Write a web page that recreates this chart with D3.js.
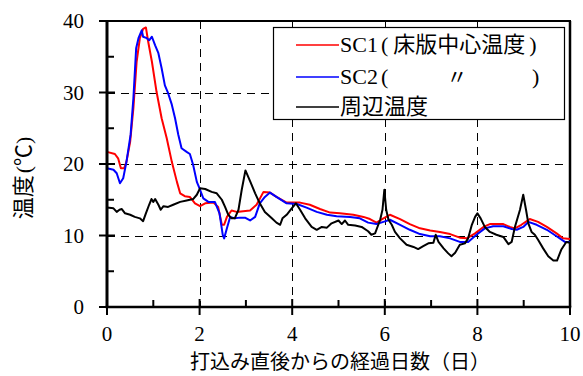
<!DOCTYPE html>
<html>
<head>
<meta charset="utf-8">
<script src="https://cdn.jsdelivr.net/npm/d3@7"></script>
<style>
  html, body { margin: 0; padding: 0; background: #fff; }
  svg { display: block; }
</style>
</head>
<body>
<svg id="chart" width="583" height="376"></svg>
<script>
// Elapsed days after placing, and temperatures (°C)
const sc1Days = [0.00,0.17,0.24,0.30,0.37,0.42,0.50,0.57,0.64,0.71,0.78,0.84,0.89,0.97,1.07,1.18,1.29,1.40,1.51,1.58,1.68,1.79,1.90,2.01,2.12,2.30,2.40,2.48,2.53,2.59,2.69,2.80,2.94,3.09,3.23,3.38,3.52,3.66,3.88,4.17,4.38,4.60,4.82,5.03,5.32,5.54,5.68,5.82,5.97,6.11,6.33,6.54,6.76,6.98,7.19,7.41,7.62,7.77,7.95,8.13,8.27,8.56,8.70,8.81,8.95,9.13,9.31,9.50,9.71,9.85,10.0];
const sc1Temp = [21.7,21.4,20.8,19.4,19.4,20.3,23.1,27.8,34.3,37.6,38.9,39.1,37.1,34.3,30.1,26.4,23.6,20.3,17.5,15.9,15.5,15.4,14.5,14.1,14.5,14.6,14.0,11.5,11.5,12.6,13.5,13.3,13.4,13.5,14.3,16.1,16.0,15.4,14.6,14.6,14.3,13.7,13.2,13.1,12.9,12.6,12.3,11.8,12.4,12.9,12.3,11.6,11.0,10.7,10.5,10.2,9.7,9.6,10.3,11.2,11.6,11.6,11.2,11.0,11.5,12.3,11.9,11.2,10.3,9.6,9.5];

const sc2Days = [0.00,0.14,0.21,0.28,0.35,0.42,0.51,0.57,0.63,0.68,0.75,0.78,0.86,0.91,0.97,1.04,1.11,1.18,1.25,1.32,1.40,1.47,1.54,1.61,1.72,1.79,1.86,1.94,2.01,2.08,2.19,2.33,2.43,2.50,2.53,2.59,2.66,2.76,2.87,2.98,3.09,3.20,3.30,3.41,3.52,3.66,3.88,4.10,4.31,4.53,4.75,4.96,5.25,5.46,5.64,5.82,5.97,6.11,6.33,6.54,6.76,6.98,7.19,7.41,7.62,7.80,7.98,8.16,8.34,8.56,8.74,8.85,8.99,9.10,9.28,9.50,9.71,9.89,10.0];
const sc2Temp = [19.4,19.2,18.7,17.3,18.0,20.3,24.1,29.2,36.2,37.6,38.7,37.8,37.6,37.3,37.8,36.6,35.5,33.4,31.0,29.9,28.3,26.4,24.1,22.2,21.7,21.4,19.9,17.5,16.4,15.2,14.7,14.7,13.1,10.1,9.6,11.0,12.6,12.4,12.5,12.5,12.1,12.6,14.5,15.4,16.0,15.4,14.5,14.4,13.9,13.3,12.9,12.7,12.6,12.4,11.8,11.6,11.9,12.2,11.5,10.8,10.2,9.9,9.9,9.6,9.1,9.1,10.1,11.0,11.3,11.3,10.9,10.8,11.2,11.9,11.5,10.8,9.9,9.1,9.1];

const airDays = [0.00,0.14,0.21,0.27,0.32,0.39,0.50,0.60,0.71,0.78,0.84,0.91,0.96,1.00,1.04,1.11,1.16,1.22,1.32,1.43,1.58,1.72,1.86,1.94,2.01,2.12,2.26,2.37,2.48,2.55,2.62,2.69,2.76,2.84,2.91,2.99,3.09,3.20,3.30,3.41,3.56,3.66,3.74,3.79,3.88,3.99,4.08,4.17,4.28,4.42,4.53,4.64,4.75,4.85,5.00,5.07,5.14,5.21,5.36,5.50,5.64,5.71,5.79,5.90,5.95,5.99,6.03,6.08,6.15,6.22,6.33,6.47,6.62,6.72,6.83,6.94,7.05,7.10,7.16,7.27,7.37,7.44,7.52,7.62,7.73,7.80,7.88,7.95,8.00,8.07,8.16,8.27,8.41,8.56,8.67,8.74,8.81,8.92,8.99,9.05,9.10,9.17,9.24,9.31,9.42,9.53,9.64,9.72,9.81,9.92,10.0];
const airTemp = [13.9,13.8,13.3,13.6,13.7,13.1,12.9,12.6,12.4,12.0,13.1,14.3,15.1,14.7,15.1,14.3,13.6,14.1,14.0,14.3,14.7,14.9,15.1,15.7,16.6,16.5,16.1,15.9,15.0,14.0,12.9,12.4,12.4,13.6,16.4,19.1,17.6,15.9,14.5,13.3,12.4,11.8,11.5,12.4,12.9,13.8,14.5,13.6,12.4,11.2,10.8,11.2,11.1,11.7,12.1,11.6,12.1,11.5,11.4,11.2,10.6,10.1,10.3,12.2,13.6,16.4,13.6,12.2,11.5,10.5,9.6,8.7,8.4,8.1,8.5,8.9,9.0,10.1,9.1,8.2,7.5,7.1,7.6,8.7,8.9,9.6,11.5,12.6,13.1,12.4,11.2,10.5,10.1,9.8,8.8,9.1,11.2,13.6,15.7,13.6,11.7,10.5,10.1,9.4,8.2,7.1,6.5,6.5,8.0,9.1,9.0];

// Axis ticks
const xMajorTicks = [0, 2, 4, 6, 8, 10];
const xMinorTicks = [1, 3, 5, 7, 9];
const yMajorTicks = [0, 10, 20, 30, 40];
const yMinorTicks = [5, 15, 25, 35];
const xGridTicks = [2, 4, 6, 8];
const yGridTicks = [10, 20, 30];

const seriesNames = ["SC1", "SC2", "周辺温度"];
const seriesColors = ["#ff0000", "#0000ff", "#000000"];

const SERIF = "Liberation Serif";
const CJK = "Noto Sans CJK JP";

const svg = d3.select("#chart");
const x = d3.scaleLinear().domain([0, 10]).range([107, 570]);
const y = d3.scaleLinear().domain([0, 40]).range([307, 21]);

// Dashed grid
const grid = svg.append("g").attr("stroke", "#000").attr("stroke-width", 1)
  .attr("stroke-dasharray", "8,6").attr("fill", "none");
xGridTicks.forEach(t => {
  grid.append("line").attr("x1", Math.round(x(t)) + 0.5).attr("x2", Math.round(x(t)) + 0.5)
    .attr("y1", y(40)).attr("y2", y(0));
});
yGridTicks.forEach(t => {
  grid.append("line").attr("x1", x(0)).attr("x2", x(10))
    .attr("y1", Math.round(y(t)) + 0.5).attr("y2", Math.round(y(t)) + 0.5);
});

// Frame
const frame = svg.append("g").attr("stroke", "#000").attr("fill", "none");
frame.append("line").attr("x1", x(0)).attr("x2", x(10) + 1).attr("y1", y(40)).attr("y2", y(40)).attr("stroke-width", 2);
frame.append("line").attr("x1", x(10)).attr("x2", x(10)).attr("y1", y(40)).attr("y2", y(0)).attr("stroke-width", 2.5);

// Data lines
const line = d3.line().x(d => x(d[0])).y(d => y(d[1]));
const seriesData = [
  d3.zip(sc1Days, sc1Temp),
  d3.zip(sc2Days, sc2Temp),
  d3.zip(airDays, airTemp)
];
seriesData.forEach((data, i) => {
  svg.append("path").datum(data).attr("d", line)
    .attr("fill", "none").attr("stroke", seriesColors[i])
    .attr("stroke-width", 2).attr("stroke-linejoin", "round");
});

// Axes lines and ticks
const axes = svg.append("g").attr("stroke", "#000");
axes.append("line").attr("x1", x(0)).attr("x2", x(0)).attr("y1", y(40) - 1).attr("y2", y(0) + 1).attr("stroke-width", 3);
axes.append("line").attr("x1", x(0) - 1.5).attr("x2", x(10) + 1.25).attr("y1", y(0)).attr("y2", y(0)).attr("stroke-width", 2.5);
yMajorTicks.forEach(t => {
  axes.append("line").attr("x1", x(0) - 8).attr("x2", x(0) + 8).attr("y1", y(t)).attr("y2", y(t)).attr("stroke-width", 2);
});
yMinorTicks.forEach(t => {
  axes.append("line").attr("x1", x(0)).attr("x2", x(0) + 7).attr("y1", y(t)).attr("y2", y(t)).attr("stroke-width", 2);
});
xMajorTicks.forEach(t => {
  axes.append("line").attr("x1", x(t)).attr("x2", x(t)).attr("y1", y(0) - 8).attr("y2", y(0) + 8).attr("stroke-width", 2);
});
xMinorTicks.forEach(t => {
  axes.append("line").attr("x1", x(t)).attr("x2", x(t)).attr("y1", y(0) - 7).attr("y2", y(0)).attr("stroke-width", 2);
});

// Tick labels
svg.append("g").selectAll("text").data(yMajorTicks).join("text")
  .attr("x", 84).attr("y", d => y(d) + 7).attr("font-family", SERIF)
  .attr("text-anchor", "end").attr("font-size", 21).text(d => d);
svg.append("g").selectAll("text").data(xMajorTicks).join("text")
  .attr("x", d => x(d)).attr("y", 341).attr("font-family", SERIF)
  .attr("text-anchor", "middle").attr("font-size", 21).text(d => d);

// Axis titles
svg.append("text").attr("x", 340).attr("y", 369).attr("text-anchor", "middle")
  .attr("font-size", 20).attr("font-family", CJK)
  .text("打込み直後からの経過日数（日）");
const yt = svg.append("text").attr("transform", "translate(31,178) rotate(-90)")
  .attr("text-anchor", "middle").attr("font-size", 22).attr("font-family", SERIF);
yt.append("tspan").attr("font-family", CJK).text("温度");
yt.append("tspan").attr("dx", 2).text("(");
yt.append("tspan").attr("font-family", CJK).text("℃");
yt.append("tspan").text(")");

// Legend
const lg = svg.append("g").attr("font-family", SERIF);
lg.append("rect").attr("x", 273.5).attr("y", 27.5).attr("width", 291).attr("height", 92)
  .attr("fill", "#fff").attr("stroke", "#000").attr("stroke-width", 1.2);
const rowY = [45, 77, 107];
rowY.forEach((ry, i) => {
  lg.append("line").attr("x1", 296).attr("x2", 339).attr("y1", ry).attr("y2", ry)
    .attr("stroke", seriesColors[i]).attr("stroke-width", 1.5);
});
const t1 = lg.append("text").attr("x", 340).attr("y", rowY[0] + 7).attr("font-size", 22);
t1.append("tspan").text(seriesNames[0]);
t1.append("tspan").attr("dx", 3).text("(");
t1.append("tspan").attr("dx", 5).attr("font-family", CJK).text("床版中心温度");
t1.append("tspan").attr("dx", 4).text(")");
lg.append("text").attr("x", 340).attr("y", rowY[1] + 7).attr("font-size", 22)
  .text(seriesNames[1]).append("tspan").attr("dx", 3).text("(");
lg.append("text").attr("x", 457).attr("y", rowY[1] + 7).attr("font-size", 21)
  .attr("text-anchor", "middle").attr("font-family", CJK).text("〃");
lg.append("text").attr("x", 532).attr("y", rowY[1] + 7).attr("font-size", 22).text(")");
lg.append("text").attr("x", 340).attr("y", rowY[2] + 7).attr("font-size", 22)
  .attr("font-family", CJK).text(seriesNames[2]);
</script>
</body>
</html>
